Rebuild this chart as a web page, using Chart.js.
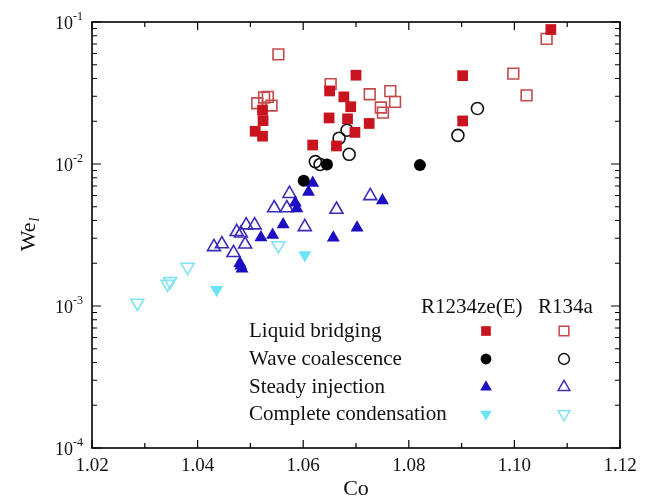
<!DOCTYPE html>
<html lang="en">
<head>
  <meta charset="UTF-8">
  <title>We_l vs Co</title>
  <style>
    * { margin: 0; padding: 0; box-sizing: border-box; }
    body { background: #fff; width: 651px; height: 500px; overflow: hidden; }
    #chart { display: block; }
  </style>
  <script src="https://cdn.jsdelivr.net/npm/chart.js"></script>
</head>
<body>
  <canvas id="chart" width="651" height="500"></canvas>
  <script>
    // [Co, We_l]
    const bridgingZe = [[1.0700,0.0422],[1.0650,0.0327],[1.0677,0.0297],[1.0690,0.0253],[1.0523,0.0240],
      [1.0524,0.0202],[1.0509,0.0170],[1.0523,0.0157],[1.0649,0.0211],[1.0684,0.0208],[1.0725,0.0193],
      [1.0698,0.0167],[1.0618,0.0136],[1.0663,0.0134],[1.1069,0.0885],[1.0902,0.0419],[1.0902,0.0201]];
    const bridging134 = [[1.0553,0.0591],[1.0513,0.0268],[1.0526,0.0294],[1.0533,0.0297],[1.0540,0.0258],
      [1.0652,0.0365],[1.0726,0.0310],[1.0765,0.0326],[1.0774,0.0274],[1.0747,0.0250],[1.0751,0.0230],
      [1.1061,0.0760],[1.0998,0.0433],[1.1023,0.0304]];
    const waveZe = [[1.0645,0.00993],[1.0821,0.00982],[1.0601,0.00762]];
    const wave134 = [[1.0683,0.0173],[1.0668,0.0152],[1.0687,0.0117],[1.0623,0.0104],[1.0632,0.00993],
      [1.0930,0.0246],[1.0893,0.0159]];
    const steadyZe = [[1.0618,0.00735],[1.0610,0.00636],[1.0585,0.00534],[1.0588,0.00485],[1.0562,0.00375],
      [1.0520,0.00304],[1.0542,0.00316],[1.0480,0.00200],[1.0484,0.00183],[1.0482,0.00192],[1.0750,0.00554],
      [1.0702,0.00355],[1.0657,0.00302]];
    const steady134 = [[1.0574,0.00618],[1.0545,0.00490],[1.0569,0.00490],[1.0492,0.00371],[1.0508,0.00371],
      [1.0474,0.00333],[1.0482,0.00325],[1.0490,0.00272],[1.0431,0.00261],[1.0446,0.00273],[1.0468,0.00237],
      [1.0727,0.00596],[1.0663,0.00478],[1.0603,0.00361]];
    const condZe = [[1.0436,0.00130],[1.0603,0.00229]];
    const cond134 = [[1.0553,0.00267],[1.0381,0.00188],[1.0348,0.00149],[1.0343,0.00143],[1.0286,0.00105]];

    const xTicks = [1.02, 1.04, 1.06, 1.08, 1.10, 1.12];
    const xMinor = [1.03, 1.05, 1.07, 1.09, 1.11];
    const yTicks = [1e-4, 1e-3, 1e-2, 1e-1];
    const yTickLabels = ['-4', '-3', '-2', '-1'];
    const regimes = ['Liquid bridging', 'Wave coalescence', 'Steady injection', 'Complete condensation'];
    const fluids = ['R1234ze(E)', 'R134a'];

    const SERIF = "'Liberation Serif', 'DejaVu Serif', serif";
    const RED = '#c8141e', RED_O = '#c24a4a';
    const BLUE = '#1c0fc2', BLUE_O = '#3a2db8';
    const CYAN = '#6ee3f7', CYAN_O = '#7fe3f2';

    // marker style per regime, [filled R1234ze(E), open R134a]
    const styles = [
      { pointStyle: 'rect', rotation: 0, radius: 7.6, fill: RED, stroke: RED_O },
      { pointStyle: 'circle', rotation: 0, radius: 6, fill: '#000', stroke: '#111' },
      { pointStyle: 'triangle', rotation: 0, radius: 7.5, fill: BLUE, stroke: BLUE_O },
      { pointStyle: 'triangle', rotation: 180, radius: 7.5, fill: CYAN, stroke: CYAN_O }
    ];
    const seriesData = [[bridgingZe, bridging134], [waveZe, wave134], [steadyZe, steady134], [condZe, cond134]];

    const datasets = [];
    seriesData.forEach((pair, i) => {
      const s = styles[i];
      pair.forEach((pts, j) => {
        datasets.push({
          label: regimes[i] + ' ' + fluids[j],
          data: pts.map(p => ({ x: p[0], y: p[1] })),
          pointStyle: s.pointStyle,
          rotation: s.rotation,
          pointRadius: s.radius,
          backgroundColor: j === 0 ? s.fill : 'rgba(255,255,255,0)',
          borderColor: j === 0 ? s.fill : s.stroke,
          borderWidth: j === 0 ? 0 : 1.6
        });
      });
    });

    const framePlugin = {
      id: 'frame',
      beforeDatasetsDraw(chart) {
        const { ctx, chartArea: a, scales: { x, y } } = chart;
        ctx.save();
        ctx.strokeStyle = '#000';
        ctx.lineWidth = 1.6;
        ctx.strokeRect(a.left, a.top, a.right - a.left, a.bottom - a.top);
        ctx.lineWidth = 1.2;
        ctx.beginPath();
        const xt = (v, len) => {
          const px = x.getPixelForValue(v);
          ctx.moveTo(px, a.bottom); ctx.lineTo(px, a.bottom - len);
          ctx.moveTo(px, a.top); ctx.lineTo(px, a.top + len);
        };
        xTicks.forEach(v => xt(v, 8));
        xMinor.forEach(v => xt(v, 5));
        const yt = (v, len) => {
          const py = y.getPixelForValue(v);
          ctx.moveTo(a.left, py); ctx.lineTo(a.left + len, py);
          ctx.moveTo(a.right, py); ctx.lineTo(a.right - len, py);
        };
        yTicks.forEach((v, k) => {
          yt(v, 9);
          if (k < yTicks.length - 1) for (let m = 2; m <= 9; m++) yt(v * m, 5);
        });
        ctx.stroke();
        ctx.restore();
      },
      afterDraw(chart) {
        const { ctx, chartArea: a, scales: { x, y } } = chart;
        ctx.save();
        ctx.fillStyle = '#111';
        // x tick labels
        ctx.font = '19px ' + SERIF;
        ctx.textAlign = 'center';
        ctx.textBaseline = 'middle';
        xTicks.forEach(v => ctx.fillText(v.toFixed(2), x.getPixelForValue(v), a.bottom + 18));
        // y tick labels 10^n
        yTicks.forEach((v, k) => {
          const py = y.getPixelForValue(v);
          ctx.font = '12px ' + SERIF;
          const w2 = ctx.measureText(yTickLabels[k]).width;
          ctx.font = '18px ' + SERIF;
          const w1 = ctx.measureText('10').width;
          const right = a.left - 9;
          ctx.textAlign = 'left';
          ctx.textBaseline = 'alphabetic';
          ctx.fillText('10', right - w2 - w1, py + 7);
          ctx.font = '12px ' + SERIF;
          ctx.fillText(yTickLabels[k], right - w2, py - 2);
        });
        // axis titles
        ctx.font = '22px ' + SERIF;
        ctx.textAlign = 'center';
        ctx.textBaseline = 'middle';
        ctx.fillText('Co', (a.left + a.right) / 2, a.bottom + 41);
        ctx.save();
        ctx.translate(27, (a.top + a.bottom) / 2);
        ctx.rotate(-Math.PI / 2);
        ctx.font = '22px ' + SERIF;
        const wW = ctx.measureText('We').width;
        ctx.font = 'italic 14px ' + SERIF;
        const wl = ctx.measureText('l').width;
        ctx.textAlign = 'left';
        ctx.textBaseline = 'alphabetic';
        ctx.font = '22px ' + SERIF;
        ctx.fillText('We', -(wW + wl) / 2, 8);
        ctx.font = 'italic 14px ' + SERIF;
        ctx.fillText('l', -(wW + wl) / 2 + wW + 1, 12);
        ctx.restore();
        // legend
        ctx.font = '21px ' + SERIF;
        ctx.textAlign = 'left';
        ctx.textBaseline = 'middle';
        ctx.fillText(fluids[0], 421, 307);
        ctx.fillText(fluids[1], 538, 307);
        const rowsY = [331, 359, 387, 414];
        const colX = [486, 564];
        regimes.forEach((name, i) => {
          ctx.fillStyle = '#111';
          ctx.fillText(name, 249, rowsY[i]);
          const s = styles[i];
          const r = s.radius * 0.9;
          // filled
          ctx.fillStyle = s.fill;
          ctx.strokeStyle = s.fill;
          Chart.helpers.drawPoint(ctx, { pointStyle: s.pointStyle, rotation: s.rotation, radius: r, borderWidth: 0 }, colX[0], rowsY[i]);
          // open
          ctx.fillStyle = 'rgba(255,255,255,0)';
          ctx.strokeStyle = s.stroke;
          ctx.lineWidth = 1.5;
          Chart.helpers.drawPoint(ctx, { pointStyle: s.pointStyle, rotation: s.rotation, radius: r, borderWidth: 1.5 }, colX[1], rowsY[i]);
        });
        ctx.restore();
      }
    };

    new Chart(document.getElementById('chart'), {
      type: 'scatter',
      data: { datasets },
      options: {
        responsive: false,
        animation: false,
        layout: { padding: { left: 92, right: 31, top: 22, bottom: 52 } },
        plugins: { legend: { display: false }, tooltip: { enabled: false } },
        scales: {
          x: {
            type: 'linear', min: 1.02, max: 1.12,
            ticks: { display: false },
            grid: { display: false, drawTicks: false },
            border: { display: false }
          },
          y: {
            type: 'logarithmic', min: 1e-4, max: 1e-1,
            ticks: { display: false },
            grid: { display: false, drawTicks: false },
            border: { display: false }
          }
        }
      },
      plugins: [framePlugin]
    });
  </script>
</body>
</html>
